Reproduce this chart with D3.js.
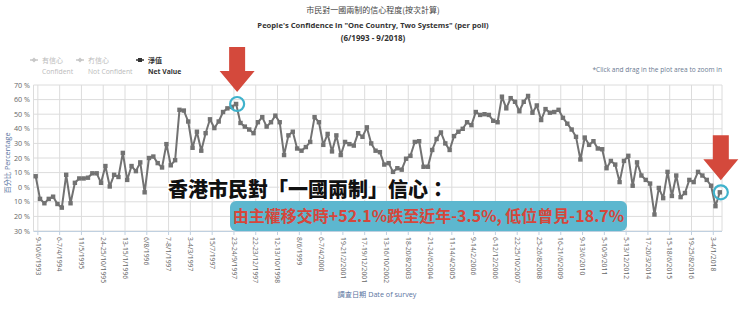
<!DOCTYPE html>
<html><head><meta charset="utf-8">
<script src="https://cdn.jsdelivr.net/npm/d3@7"></script>
<style>body{margin:0;background:#fff} svg{display:block}</style>
</head><body><svg id="c" width="740" height="312"></svg>
<script>
// ---- data ----
const netValues = [
 7.5,-8,-11,-8,-6.5,-11.5,-14,8.5,-11,3,
 6,6,6.5,9.5,9.5,3,14.5,0.5,8.5,7,
 23.5,5,14.5,11,17,-3.5,20,21,16.5,13.5,
 29.5,15,18.5,53,52.5,45,27,38,25,37,
 46.5,40.5,45,51.5,54,55,57,44,41.5,39.5,
 37,44.5,48,41.5,44.5,49,44.5,22,35.5,38,
 26.5,25,27.5,31,48,44.5,29,36.5,24.5,35.5,
 22,31,29.5,28.5,37,34.5,41,30,25,24,
 15.5,16.5,10.5,13,12,19.5,21.5,31,31.5,14,
 14,25.5,33,37.5,30,25.5,35,38,40,44.5,
 42.5,51.5,49.5,50,49.5,45.5,44.5,62,54,61,
 58.5,52,58.5,62.5,51,56,46,53.5,51,51.5,
 53,47.5,43.5,39.5,34.5,19,34,29,31.5,26.5,
 26,13,18,15.5,3.5,18,21.5,1,17,8,
 5,2.5,-18.7,-0.5,-7.5,10.5,-6,8,-6.8,-4,
 5,3.5,10.5,8,5,1,-13,-3.5
];
const tickLabels = [
 "9-10/6/1993","6-7/4/1994","11/5/1995","24-25/10/1995","13-15/1/1996","6/8/1996",
 "7-8/1/1997","3-4/3/1997","15/7/1997","23-24/9/1997","22-23/12/1997","12-13/10/1998",
 "8/6/1999","6-7/4/2000","19-21/2/2001","17-19/12/2001","13-16/10/2002","18-20/8/2003",
 "21-24/6/2004","11-14/4/2005","9-14/2/2006","6-12/12/2006","22-25/10/2007","25-26/8/2008",
 "16-21/6/2009","9-13/6/2010","5-10/9/2011","5-13/12/2012","17-20/3/2014","15-18/6/2015",
 "19-25/8/2016","3-4/1/2018"
];
const tickEvery = 5;
const yTicks = [70,60,50,40,30,20,10,0,-10,-20,-30];
const yTickLabels = ["70 %","60 %","50 %","40 %","30 %","20 %","10 %","0 %","10 %","20 %","30 %"];
const legendItems = [
 {zh:"有信心", en:"Confident", active:false},
 {zh:"冇信心", en:"Not Confident", active:false},
 {zh:"淨值", en:"Net Value", active:true}
];
const titleZh = "市民對一國兩制的信心程度(按次計算)";
const titleEn = "People's Confidence in \"One Country, Two Systems\" (per poll)";
const titleRange = "(6/1993 - 9/2018)";
const headline = "香港市民對「一國兩制」信心：";
const subline = "由主權移交時+52.1%跌至近年-3.5%, 低位曾見-18.7%";
const highlightIdx = [46, 157];

// ---- drawing ----
const FONT = "'Open Sans','Noto Sans CJK TC',sans-serif";
const CJK = "'Noto Sans CJK TC','Noto Sans CJK SC',sans-serif";
const svg = d3.select("#c");
const P = {l:33.5, r:722, t:85, b:231};
const x = d3.scaleLinear().domain([-0.5, netValues.length-0.5]).range([P.l, P.r]);
const y = d3.scaleLinear().domain([-30,70]).range([P.b, P.t]);
const step = x(1)-x(0);

// titles
svg.append("text").attr("x",373).attr("y",13).attr("text-anchor","middle")
  .attr("font-family",CJK).attr("font-size",8).attr("fill","#444").text(titleZh);
svg.append("text").attr("x",373).attr("y",28).attr("text-anchor","middle")
  .attr("font-family",FONT).attr("font-weight","bold").attr("font-size",7.6).attr("fill","#333").text(titleEn);
svg.append("text").attr("x",373).attr("y",41).attr("text-anchor","middle")
  .attr("font-family",FONT).attr("font-weight","bold").attr("font-size",8).attr("fill","#333").text(titleRange);

// legend
const lgX = [34, 80, 140];
legendItems.forEach((d,i)=>{
  const g = svg.append("g").attr("transform",`translate(${lgX[i]},63)`);
  const c = d.active ? "#333" : "#c8c8c8";
  g.append("line").attr("x1",-4).attr("x2",4).attr("y1",-3).attr("y2",-3).attr("stroke",c).attr("stroke-width",1.5);
  if (d.active) g.append("rect").attr("x",-2).attr("y",-5).attr("width",4).attr("height",4).attr("fill",c);
  else g.append("path").attr("d","M0,-5.5L2.5,-3L0,-0.5L-2.5,-3Z").attr("fill",c);
  g.append("text").attr("x",8).attr("y",0).attr("font-family",CJK).attr("font-size",7)
    .attr("fill", d.active ? "#333" : "#bbb").attr("font-weight", d.active?"bold":"normal").text(d.zh);
  g.append("text").attr("x",8).attr("y",10.5).attr("font-family",FONT).attr("font-size",6.8)
    .attr("fill", d.active ? "#333" : "#bbb").attr("font-weight", d.active?"bold":"normal").text(d.en);
});

svg.append("text").attr("x",722).attr("y",72).attr("text-anchor","end")
  .attr("font-family",FONT).attr("font-size",6.6).attr("fill","#6a7a92")
  .text("*Click and drag in the plot area to zoom in");

// grid
const grid = svg.append("g");
yTicks.forEach(v=>{
  grid.append("line").attr("x1",P.l).attr("x2",P.r).attr("y1",y(v)).attr("y2",y(v))
    .attr("stroke","#dcdcdc").attr("stroke-width",1);
});
const tickIdx = tickLabels.map((_,k)=>k*tickEvery);
tickIdx.forEach(i=>{
  const tx = x(i)+step/2;
  grid.append("line").attr("x1",tx).attr("x2",tx).attr("y1",P.t).attr("y2",P.b)
    .attr("stroke","#dcdcdc").attr("stroke-width",1);
});
[P.l,P.r].forEach(tx=>grid.append("line").attr("x1",tx).attr("x2",tx).attr("y1",P.t).attr("y2",P.b)
    .attr("stroke","#dcdcdc"));

// x axis line
svg.append("line").attr("x1",P.l).attr("x2",P.r).attr("y1",P.b+0.5).attr("y2",P.b+0.5)
  .attr("stroke","#c0d0e0").attr("stroke-width",1);
tickIdx.forEach((i,k)=>{
  const tx = x(i)+step/2;
  svg.append("line").attr("x1",tx).attr("x2",tx).attr("y1",P.b).attr("y2",P.b+4).attr("stroke","#c0d0e0");
  svg.append("text").attr("transform",`translate(${tx-2.3},${P.b+6}) rotate(90)`)
    .attr("font-family",FONT).attr("font-size",6.8).attr("fill","#666").text(tickLabels[k]);
});

// y labels
yTicks.forEach((v,k)=>{
  svg.append("text").attr("x",30).attr("y",y(v)+2.5).attr("text-anchor","end")
    .attr("font-family",FONT).attr("font-size",7.2).attr("fill","#666").text(yTickLabels[k]);
});
svg.append("text").attr("transform",`translate(10,${(P.t+P.b)/2+5}) rotate(-90)`)
  .attr("text-anchor","middle").attr("font-family",FONT).attr("font-size",7.2).attr("fill","#5a74a0")
  .text("百分比 Percentage");
svg.append("text").attr("x",377).attr("y",297).attr("text-anchor","middle")
  .attr("font-family",FONT).attr("font-size",7.2).attr("fill","#5a74a0").text("調查日期 Date of survey");

// series
const line = d3.line().x((d,i)=>x(i)).y(d=>y(d));
svg.append("path").datum(netValues).attr("d",line).attr("fill","none")
  .attr("stroke","#727272").attr("stroke-width",2).attr("stroke-linejoin","round");
svg.append("g").selectAll("rect").data(netValues).join("rect")
  .attr("x",(d,i)=>x(i)-2.2).attr("y",d=>y(d)-2.2).attr("width",4.4).attr("height",4.4)
  .attr("fill","#727272");

// highlight circles & arrows
highlightIdx.forEach(i=>{
  const cx = x(i)+1, cy = y(netValues[i]);
  const r = 7;
  svg.append("circle").attr("cx",cx).attr("cy",cy).attr("r",r).attr("fill","none")
    .attr("stroke","#3fb2cc").attr("stroke-width",2.2);
  const tipY = cy - r - 5, ax = cx;
  const sw = 8, hw = 17.5, hh = 21, tot = 45;
  svg.append("path").attr("fill","#d4493c").attr("d",
    `M${ax-sw},${tipY-tot}L${ax+sw},${tipY-tot}L${ax+sw},${tipY-hh}L${ax+hw},${tipY-hh}L${ax},${tipY}L${ax-hw},${tipY-hh}L${ax-sw},${tipY-hh}Z`);
});

// annotation
svg.append("text").attr("x",168).attr("y",197).attr("font-family",CJK).attr("font-weight",900)
  .attr("font-size",20).attr("fill","#111").attr("stroke","#fff").attr("stroke-width",3)
  .attr("paint-order","stroke").attr("stroke-linejoin","round").text(headline);
svg.append("rect").attr("x",230).attr("y",201).attr("width",397).attr("height",30).attr("rx",6)
  .attr("fill","#5db7cf");
svg.append("text").attr("x",428.5).attr("y",221.5).attr("text-anchor","middle").attr("font-family",CJK)
  .attr("font-weight","bold").attr("font-size",16).attr("fill","#d6463b").text(subline);
</script></body></html>
